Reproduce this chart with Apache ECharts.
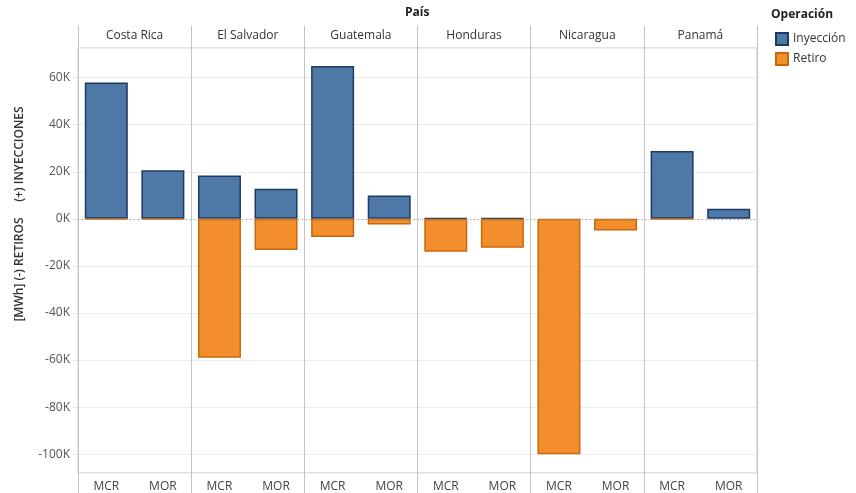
<!DOCTYPE html>
<html>
<head>
<meta charset="utf-8">
<script src="https://cdn.jsdelivr.net/npm/echarts@6/dist/echarts.min.js"></script>
<style>
  html, body { margin: 0; padding: 0; background: #fff; }
  #chart { width: 856px; height: 493px; }
</style>
</head>
<body>
<div id="chart"></div>
<script>
const countries = ['Costa Rica', 'El Salvador', 'Guatemala', 'Honduras', 'Nicaragua', 'Panamá'];
const markets = ['MCR', 'MOR'];
// one value per (country, market), in country order; null = no mark
const inyeccion = [57900, 20700, 18400, 12800, 64900, 9900, 200, 200, null, null, 28800, 4300];
const retiro = [-200, -200, -59000, -13200, -7700, -2400, -14000, -12300, -100000, -4900, -200, null];
const yTicks = [-100000, -80000, -60000, -40000, -20000, 0, 20000, 40000, 60000];

const font = "'Open Sans', 'Noto Sans', sans-serif";
const lineGray = '#c4c4c4';

const cats = [];
countries.forEach(c => markets.forEach(m => cats.push(m + '|' + c)));

const chart = echarts.init(document.getElementById('chart'));

const option = {
  animation: false,
  textStyle: { fontFamily: font },
  grid: {
    left: 78, right: 99, top: 48, bottom: 20,
    show: true, borderColor: lineGray, borderWidth: 1
  },
  legend: {
    orient: 'vertical',
    left: 770, top: 27,
    itemWidth: 12, itemHeight: 12, itemGap: 6,
    icon: 'rect',
    textStyle: { fontFamily: font, fontSize: 12, color: '#333' },
    data: ['Inyección', 'Retiro']
  },
  xAxis: [
    {
      type: 'category',
      data: cats,
      position: 'bottom',
      axisLine: { show: false },
      axisTick: { show: false },
      axisLabel: {
        formatter: v => v.split('|')[0],
        color: '#444', fontSize: 12, margin: 8, fontFamily: font
      }
    },
    {
      type: 'category',
      data: countries,
      position: 'top',
      axisLine: { show: false },
      axisTick: { show: true, length: 22, lineStyle: { color: lineGray } },
      axisLabel: { color: '#333', fontSize: 12, margin: 6, fontFamily: font },
      splitLine: { show: true, lineStyle: { color: lineGray } }
    },
    {
      type: 'category',
      data: countries,
      position: 'bottom',
      axisLine: { show: false },
      axisTick: { show: true, length: 20, lineStyle: { color: lineGray } },
      axisLabel: { show: false }
    }
  ],
  yAxis: {
    type: 'value',
    min: -108000,
    max: 72600,
    splitNumber: 9,
    axisLine: { show: false },
    axisTick: { show: true, length: 5, lineStyle: { color: '#e2e2e2' } },
    axisLabel: {
      showMinLabel: false, showMaxLabel: false,
      color: '#555', fontSize: 12, margin: 8, fontFamily: font,
      formatter: v => yTicks.includes(v) ? (v / 1000) + 'K' : ''
    },
    splitLine: { lineStyle: { color: '#ececec' } }
  },
  graphic: [
    {
      type: 'text', left: 405, top: 7,
      style: { text: 'País', font: "bold 12px " + font, fill: '#222' }
    },
    {
      type: 'text', left: 771, top: 9,
      style: { text: 'Operación', font: "bold 12px " + font, fill: '#222' }
    },
    {
      type: 'text', x: 20, y: 214, rotation: Math.PI / 2,
      style: {
        text: '[MWh] (-) RETIROS     (+) INYECCIONES',
        font: "600 12px " + font, fill: '#333',
        align: 'center', verticalAlign: 'middle'
      }
    }
  ],
  series: [
    {
      name: 'Inyección',
      type: 'bar',
      stack: 'total',
      xAxisIndex: 0,
      barWidth: 43,
      data: inyeccion,
      itemStyle: { color: '#4e79a7', borderColor: '#1d3a66', borderWidth: 1.5 },
      markLine: {
        silent: true, symbol: 'none', label: { show: false },
        lineStyle: { color: '#999', type: [1, 3], width: 1 },
        data: [{ yAxis: 0 }]
      }
    },
    {
      name: 'Retiro',
      type: 'bar',
      stack: 'total',
      xAxisIndex: 0,
      barWidth: 43,
      data: retiro,
      itemStyle: { color: '#f28e2b', borderColor: '#c9670f', borderWidth: 1.5 }
    }
  ]
};

chart.setOption(option);
</script>
</body>
</html>
